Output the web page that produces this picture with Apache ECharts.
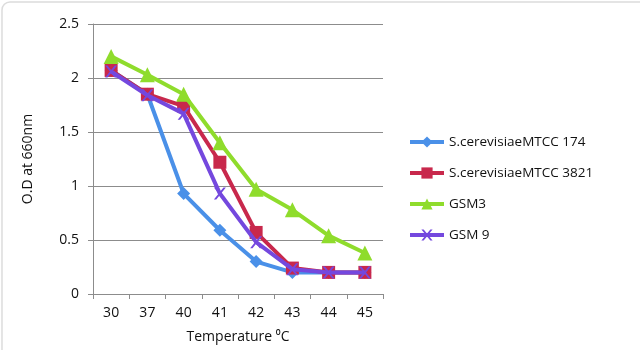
<!DOCTYPE html>
<html>
<head>
<meta charset="utf-8">
<script src="https://cdn.jsdelivr.net/npm/echarts@6/dist/echarts.min.js"></script>
<style>
  html, body { margin: 0; padding: 0; background: #ffffff; }
  #chart { width: 640px; height: 350px; }
</style>
</head>
<body>
<div id="chart"></div>
<script>
// Growth (optical density) of yeast strains at increasing temperatures
var temperatures = ['30', '37', '40', '41', '42', '43', '44', '45'];
var seriesNames = ['S.cerevisiaeMTCC 174', 'S.cerevisiaeMTCC 3821', 'GSM3', 'GSM 9'];
var mtcc174 = [2.07, 1.85, 0.93, 0.59, 0.30, 0.20, 0.20, 0.20];
var mtcc3821 = [2.07, 1.85, 1.74, 1.22, 0.57, 0.24, 0.20, 0.20];
var gsm3 = [2.20, 2.03, 1.85, 1.40, 0.97, 0.78, 0.54, 0.38];
var gsm9 = [2.06, 1.84, 1.67, 0.93, 0.48, 0.23, 0.20, 0.20];
var yTicks = [0, 0.5, 1, 1.5, 2, 2.5];

var FONT = '"Open Sans", "Liberation Sans", sans-serif';
var crossPath = 'path://M0,0 L2,0 L5,3 L8,0 L10,0 L6,4 L10,8 L8,8 L5,5 L2,8 L0,8 L4,4 Z';

var styles = [
  { color: '#4a90e8', symbol: 'diamond', size: 13 },
  { color: '#c8284c', symbol: 'rect', size: 13 },
  { color: '#8fdc2c', symbol: 'triangle', size: 15 },
  { color: '#7448de', symbol: crossPath, size: 12 }
];
var values = [mtcc174, mtcc3821, gsm3, gsm9];

var chart = echarts.init(document.getElementById('chart'), null, { renderer: 'canvas' });

chart.setOption({
  animation: false,
  backgroundColor: '#ffffff',
  graphic: [{
    type: 'rect',
    shape: { x: 2, y: 2, width: 660, height: 370, r: 8 },
    style: { fill: 'none', stroke: '#dcdcdc', lineWidth: 1.5 },
    z: -1
  }],
  grid: { left: 93, right: 257, top: 24, bottom: 56, containLabel: false },
  legend: {
    orient: 'vertical',
    left: 408,
    top: 135,
    padding: 0,
    itemGap: 17,
    itemWidth: 34,
    itemHeight: 14,
    lineStyle: { width: 4 },
    textStyle: { fontFamily: FONT, fontSize: 13.5, color: '#111111' },
    data: seriesNames
  },
  xAxis: {
    type: 'category',
    data: temperatures,
    boundaryGap: true,
    name: 'Temperature \u2070C',
    nameLocation: 'middle',
    nameGap: 36,
    nameTextStyle: { fontFamily: FONT, fontSize: 14, color: '#111111' },
    axisLine: { lineStyle: { color: '#8c8c8c', width: 1 } },
    axisTick: { show: true, alignWithLabel: false, length: 5, lineStyle: { color: '#8c8c8c' } },
    axisLabel: { fontFamily: FONT, fontSize: 14, color: '#111111', margin: 12 },
    splitLine: { show: false }
  },
  yAxis: {
    type: 'value',
    min: yTicks[0],
    max: yTicks[yTicks.length - 1],
    interval: 0.5,
    name: 'O.D at 660nm',
    nameLocation: 'middle',
    nameGap: 58,
    nameRotate: 90,
    nameTextStyle: { fontFamily: FONT, fontSize: 14, color: '#111111' },
    axisLine: { show: true, lineStyle: { color: '#8c8c8c', width: 1 } },
    axisTick: { show: true, length: 5, lineStyle: { color: '#8c8c8c' } },
    axisLabel: { fontFamily: FONT, fontSize: 14, color: '#111111', margin: 14 },
    splitLine: { show: true, lineStyle: { color: '#8c8c8c', width: 1 } }
  },
  series: seriesNames.map(function (name, i) {
    return {
      name: name,
      type: 'line',
      data: values[i],
      symbol: styles[i].symbol,
      symbolSize: styles[i].size,
      showAllSymbol: true,
      lineStyle: { color: styles[i].color, width: 4 },
      itemStyle: { color: styles[i].color, borderWidth: 0 },
      z: 2 + i
    };
  })
});
</script>
</body>
</html>
